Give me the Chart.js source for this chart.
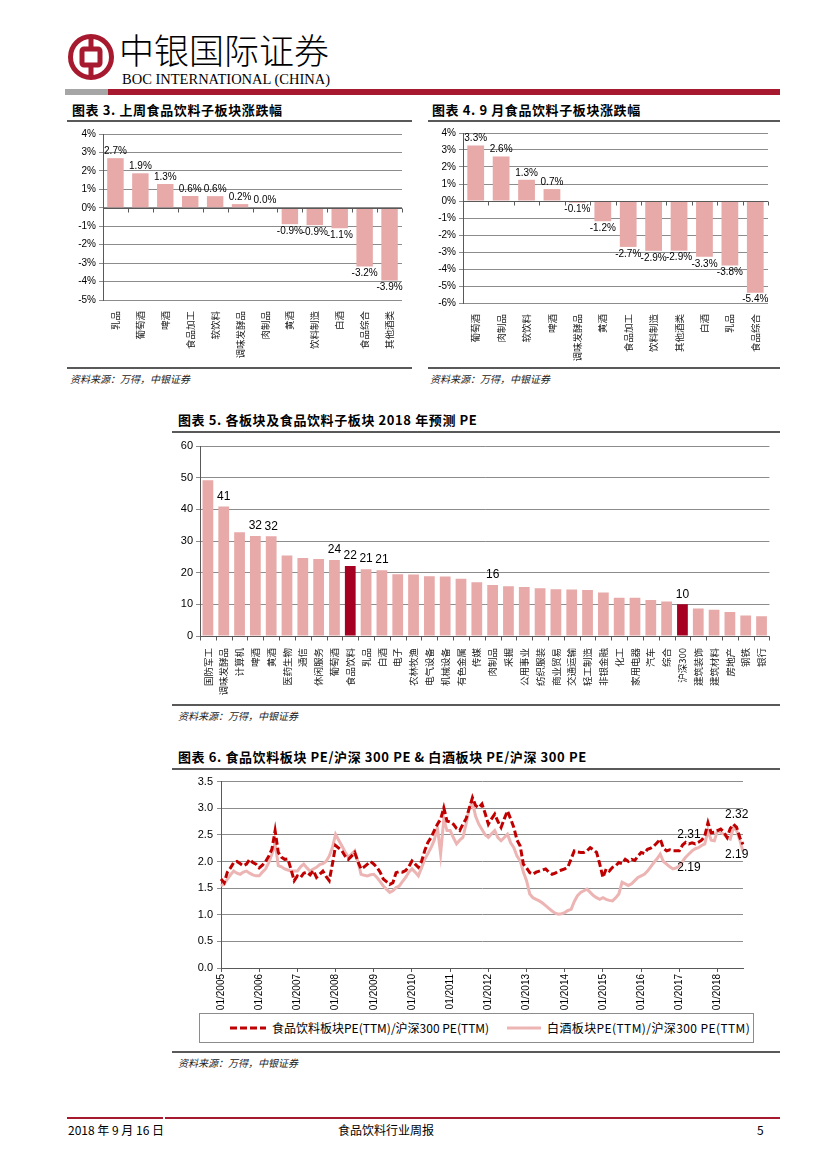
<!DOCTYPE html>
<html>
<head>
<meta charset="utf-8">
<script src="https://cdn.jsdelivr.net/npm/chart.js@4.4.0/dist/chart.umd.min.js"></script>
<style>
body{margin:0;background:#fff;}
#page{position:relative;width:827px;height:1169px;overflow:hidden;font-family:"Noto Sans CJK SC",sans-serif;color:#000;}
.abs{position:absolute;}
.title{position:absolute;font-weight:bold;font-size:13px;line-height:16px;letter-spacing:0.6px;white-space:nowrap;}
.rule{position:absolute;height:2px;background:#595959;}
.src{position:absolute;font-size:10px;line-height:12px;font-style:italic;color:#222;white-space:nowrap;}
.foot{position:absolute;top:1123px;font-size:12px;line-height:14px;white-space:nowrap;}
#legend{position:absolute;left:199px;top:1013px;width:553px;height:28px;border:1px solid #8c8c8c;}
.lg{position:absolute;top:6px;font-size:12px;line-height:16px;white-space:nowrap;}
</style>
</head>
<body>
<div id="page">
  <!-- 页眉 -->
  <svg class="abs" style="left:66px;top:32px" width="50" height="50" viewBox="-25 -25 50 50">
    <circle r="20.5" fill="none" stroke="#A6192E" stroke-width="5"/>
    <rect x="-9" y="-8" width="18" height="16" rx="2" fill="none" stroke="#A6192E" stroke-width="5"/>
    <line x1="0" y1="-21" x2="0" y2="-8" stroke="#A6192E" stroke-width="5"/>
    <line x1="0" y1="8" x2="0" y2="21" stroke="#A6192E" stroke-width="5"/>
  </svg>
  <div class="abs" style="left:119px;top:28px;font-size:35px;line-height:42px;font-weight:300;white-space:nowrap;">中银国际证券</div>
  <div class="abs" style="left:122px;top:71px;font-family:'Liberation Serif',serif;font-size:14.5px;line-height:16px;white-space:nowrap;">BOC INTERNATIONAL (CHINA)</div>
  <div class="abs" style="left:65px;top:89px;width:43px;height:6px;background:#a6a6a6;"></div>
  <div class="abs" style="left:108px;top:89px;width:672px;height:6px;background:#A6192E;"></div>

  <!-- 图表3 -->
  <div class="title" style="left:72px;top:102px;">图表 3. 上周食品饮料子板块涨跌幅</div>
  <div class="rule" style="left:67px;top:120px;width:345px;"></div>
  <canvas id="c3" class="abs" style="left:67px;top:124px" width="340" height="240"></canvas>
  <div class="rule" style="left:67px;top:367px;width:345px;"></div>
  <div class="src" style="left:70px;top:373px;">资料来源：万得，中银证券</div>

  <!-- 图表4 -->
  <div class="title" style="left:432px;top:102px;">图表 4. 9 月食品饮料子板块涨跌幅</div>
  <div class="rule" style="left:428px;top:120px;width:352px;"></div>
  <canvas id="c4" class="abs" style="left:425px;top:123px" width="348" height="241"></canvas>
  <div class="rule" style="left:428px;top:367px;width:352px;"></div>
  <div class="src" style="left:430px;top:373px;">资料来源：万得，中银证券</div>

  <!-- 图表5 -->
  <div class="title" style="left:178px;top:412px;">图表 5. 各板块及食品饮料子板块 2018 年预测 PE</div>
  <div class="rule" style="left:172px;top:431px;width:608px;"></div>
  <canvas id="c5" class="abs" style="left:170px;top:436px" width="607" height="264"></canvas>
  <div class="rule" style="left:172px;top:704px;width:608px;"></div>
  <div class="src" style="left:178px;top:710px;">资料来源：万得，中银证券</div>

  <!-- 图表6 -->
  <div class="title" style="left:178px;top:749px;">图表 6. 食品饮料板块 PE/沪深 300 PE &amp; 白酒板块 PE/沪深 300 PE</div>
  <div class="rule" style="left:172px;top:768px;width:608px;"></div>
  <canvas id="c6" class="abs" style="left:185px;top:771px" width="572" height="240"></canvas>
  <div id="legend">
    <svg class="abs" style="left:30px;top:12px" width="36" height="4"><line x1="0" y1="2" x2="36" y2="2" stroke="#C00000" stroke-width="3" stroke-dasharray="7,3"/></svg>
    <div class="lg" style="left:72px;">食品饮料板块PE(TTM)/沪深300 PE(TTM)</div>
    <svg class="abs" style="left:307px;top:12px" width="34" height="4"><line x1="0" y1="2" x2="34" y2="2" stroke="#EDB4B4" stroke-width="3"/></svg>
    <div class="lg" style="left:347px;letter-spacing:0.4px;">白酒板块PE(TTM)/沪深300 PE(TTM)</div>
  </div>
  <div class="rule" style="left:172px;top:1051px;width:608px;"></div>
  <div class="src" style="left:178px;top:1057px;">资料来源：万得，中银证券</div>

  <!-- 页脚 -->
  <div class="abs" style="left:67px;top:1117px;width:96px;height:2px;background:#A6192E;"></div>
  <div class="abs" style="left:165px;top:1117px;width:615px;height:2px;background:#A6192E;"></div>
  <div class="foot" style="left:68px;">2018 年 9 月 16 日</div>
  <div class="foot" style="left:338px;">食品饮料行业周报</div>
  <div class="foot" style="left:757px;">5</div>
</div>

<script>
// 图表3：上周食品饮料子板块涨跌幅（%）
const weekCats = ['乳品', '葡萄酒', '啤酒', '食品加工', '软饮料', '调味发酵品', '肉制品', '黄酒', '饮料制造', '白酒', '食品综合', '其他酒类'];
const weekChg = [2.69, 1.87, 1.29, 0.64, 0.63, 0.2, 0.02, -0.89, -0.94, -1.11, -3.18, -3.94];

// 图表4：9月食品饮料子板块涨跌幅（%）
const monthCats = ['葡萄酒', '肉制品', '软饮料', '啤酒', '调味发酵品', '黄酒', '食品加工', '饮料制造', '其他酒类', '白酒', '乳品', '食品综合'];
const monthChg = [3.26, 2.62, 1.25, 0.7, -0.1, -1.19, -2.7, -2.93, -2.92, -3.28, -3.79, -5.39];

// 图表5：2018年预测PE
const peCats = ['国防军工', '调味发酵品', '计算机', '啤酒', '黄酒', '医药生物', '通信', '休闲服务', '葡萄酒', '食品饮料',
  '乳品', '白酒', '电子', '农林牧渔', '电气设备', '机械设备', '有色金属', '传媒', '肉制品', '采掘',
  '公用事业', '纺织服装', '商业贸易', '交通运输', '轻工制造', '非银金融', '化工', '家用电器', '汽车', '综合',
  '沪深300', '建筑装饰', '建筑材料', '房地产', '钢铁', '银行'];
const peVals = [49.2, 40.9, 32.8, 31.6, 31.5, 25.4, 24.6, 24.3, 24.0, 22.1,
  21.1, 20.8, 19.5, 19.4, 18.9, 18.8, 18.1, 17.0, 16.1, 15.7,
  15.5, 15.1, 14.8, 14.7, 14.5, 13.7, 12.1, 12.1, 11.4, 10.9,
  10.0, 8.7, 8.3, 7.6, 6.5, 6.2];
const peMarked = ['食品饮料', '沪深300'];
const peLabelIdx = [1, 3, 4, 8, 9, 10, 11, 18, 30];

// 图表6：月度相对估值 2005/01 - 2018/09
const foodRel = [
  1.67, 1.60, 1.80, 1.88, 1.98, 2.00, 1.96, 1.92, 1.95, 2.04, 1.98, 1.95,
  1.88, 1.93, 2.00, 2.10, 2.23, 2.58, 2.17, 2.08, 2.04, 2.05, 1.85, 1.64,
  1.73, 1.70, 1.78, 1.80, 1.75, 1.83, 1.70, 1.76, 1.82, 1.72, 1.64, 1.95,
  2.30, 2.25, 2.20, 2.10, 2.04, 2.10, 2.17, 2.00, 1.86, 1.90, 1.95, 2.00,
  1.95, 1.89, 1.80, 1.67, 1.62, 1.57, 1.60, 1.79, 1.81, 1.80, 1.83, 1.90,
  2.01, 1.95, 1.89, 2.00, 2.20, 2.36, 2.45, 2.58, 2.70, 2.79, 3.01, 2.76,
  2.74, 2.70, 2.62, 2.58, 2.70, 2.80, 3.00, 3.20, 3.05, 3.01, 3.08, 2.90,
  2.70, 2.80, 2.89, 2.75, 2.64, 2.80, 2.95, 2.80, 2.64, 2.40, 2.29, 1.95,
  1.88, 1.79, 1.76, 1.80, 1.82, 1.84, 1.86, 1.80, 1.76, 1.78, 1.82, 1.84,
  1.86, 1.90, 2.05, 2.20, 2.18, 2.17, 2.17, 2.20, 2.26, 2.22, 2.17, 1.95,
  1.70, 1.86, 1.82, 1.89, 1.92, 1.98, 1.96, 2.04, 2.00, 2.04, 2.02, 2.10,
  2.17, 2.15, 2.23, 2.25, 2.29, 2.35, 2.42, 2.25, 2.20, 2.22, 2.20, 2.20,
  2.20, 2.31, 2.36, 2.33, 2.35, 2.33, 2.36, 2.40, 2.48, 2.73, 2.54, 2.55,
  2.58, 2.61, 2.55, 2.45, 2.62, 2.70, 2.64, 2.45, 2.32
];
const liquorRel = [
  1.54, 1.58, 1.67, 1.75, 1.82, 1.78, 1.76, 1.80, 1.82, 1.78, 1.75, 1.73,
  1.73, 1.80, 1.86, 1.98, 2.14, 2.35, 1.92, 1.90, 1.86, 1.84, 1.82, 1.82,
  1.82, 1.90, 1.95, 1.88, 1.82, 1.86, 1.89, 1.94, 1.96, 2.00, 2.10, 2.26,
  2.51, 2.40, 2.29, 2.18, 2.08, 2.14, 2.20, 2.00, 1.76, 1.74, 1.73, 1.75,
  1.76, 1.70, 1.62, 1.54, 1.48, 1.42, 1.45, 1.51, 1.54, 1.62, 1.70, 1.80,
  1.86, 1.80, 1.73, 1.88, 2.04, 2.15, 2.26, 2.40, 2.64, 2.14, 2.80, 2.58,
  2.58, 2.45, 2.33, 2.40, 2.45, 2.70, 3.01, 3.10, 2.85, 2.70, 2.60, 2.50,
  2.45, 2.52, 2.58, 2.45, 2.39, 2.45, 2.51, 2.35, 2.26, 2.10, 2.01, 1.80,
  1.64, 1.39, 1.32, 1.29, 1.26, 1.22, 1.17, 1.12, 1.07, 1.03, 1.01, 1.02,
  1.04, 1.08, 1.10, 1.25, 1.36, 1.42, 1.45, 1.48, 1.42, 1.36, 1.32, 1.29,
  1.32, 1.29, 1.27, 1.26, 1.32, 1.39, 1.61, 1.58, 1.55, 1.58, 1.64, 1.70,
  1.73, 1.76, 1.82, 1.90, 1.98, 2.05, 2.14, 2.00, 1.95, 1.90, 1.86, 1.88,
  1.92, 2.00, 2.08, 2.14, 2.20, 2.24, 2.26, 2.30, 2.33, 2.58, 2.40, 2.39,
  2.58, 2.55, 2.51, 2.45, 2.42, 2.64, 2.58, 2.40, 2.19
];
const relMonths = [];
for (let y = 2005; y <= 2018; y++) {
  for (let m = 1; m <= 12; m++) relMonths.push(String(m).padStart(2, '0') + '/' + y);
}
relMonths.length = foodRel.length;

const PINK = '#E8A9A9';
const DARK = '#A50021';
const GRID = '#8c8c8c';
const CJK = '"Noto Sans CJK SC", sans-serif';

Chart.defaults.font.family = '"Liberation Sans", Arial, sans-serif';
Chart.defaults.color = '#000';
Chart.defaults.animation = false;

// 柱顶数值
const barLabels = {
  id: 'barLabels',
  afterDatasetsDraw(chart, args, opts) {
    if (!opts.fmt) return;
    const ctx = chart.ctx;
    const vals = chart.data.datasets[0].data;
    ctx.save();
    ctx.font = opts.font;
    ctx.fillStyle = '#000';
    ctx.textAlign = 'center';
    chart.getDatasetMeta(0).data.forEach((bar, i) => {
      if (opts.only && !opts.only.includes(i)) return;
      const v = vals[i];
      if (v >= 0) {
        ctx.textBaseline = 'bottom';
        ctx.fillText(opts.fmt(v), bar.x, bar.y - opts.gap);
      } else {
        ctx.textBaseline = 'top';
        ctx.fillText(opts.fmt(v), bar.x, bar.y + opts.gap);
      }
    });
    ctx.restore();
  }
};

// 零轴及刻度
const zeroAxis = {
  id: 'zeroAxis',
  afterDatasetsDraw(chart, args, opts) {
    if (!opts.on) return;
    const ctx = chart.ctx, area = chart.chartArea;
    const xs = chart.scales.x, ys = chart.scales.y;
    const y0 = Math.round(ys.getPixelForValue(0)) + 0.5;
    ctx.save();
    ctx.strokeStyle = '#595959';
    ctx.lineWidth = 1;
    ctx.beginPath();
    ctx.moveTo(area.left, y0);
    ctx.lineTo(area.right, y0);
    for (let i = 0; i <= chart.data.labels.length; i++) {
      const x = Math.round(xs.getPixelForValue(i - 0.5)) + 0.5;
      ctx.moveTo(x, y0);
      ctx.lineTo(x, y0 + 4);
    }
    ctx.stroke();
    ctx.restore();
  }
};

// 折线标注
const lineNotes = {
  id: 'lineNotes',
  afterDatasetsDraw(chart, args, opts) {
    if (!opts.items) return;
    const ctx = chart.ctx;
    ctx.save();
    ctx.font = '12px "Liberation Sans", Arial, sans-serif';
    ctx.fillStyle = '#000';
    ctx.textAlign = 'center';
    ctx.textBaseline = 'middle';
    opts.items.forEach(n => {
      const x = chart.scales.x.getPixelForValue(n.i);
      const y = chart.scales.y.getPixelForValue(chart.data.datasets[n.ds].data[n.i]);
      ctx.fillText(n.text, x, y + n.dy);
    });
    ctx.restore();
  }
};

Chart.register(barLabels, zeroAxis, lineNotes);

function fixWidth(w) { return s => { s.width = w; }; }
function fixHeight(h) { return s => { s.height = h; }; }

function createChgChart(id, labels, data, min, max, yw, xh) {
  return new Chart(document.getElementById(id), {
    type: 'bar',
    data: {
      labels: labels,
      datasets: [{ data: data, backgroundColor: PINK, categoryPercentage: 1, barPercentage: 0.66 }]
    },
    options: {
      responsive: false,
      layout: { padding: { top: 10, right: 5, left: 0, bottom: 0 } },
      plugins: {
        legend: { display: false },
        tooltip: { enabled: false },
        barLabels: { fmt: v => v.toFixed(1) + '%', font: '10px "Liberation Sans", Arial, sans-serif', gap: 2 },
        zeroAxis: { on: true }
      },
      scales: {
        x: {
          grid: { display: false },
          border: { display: false },
          ticks: { autoSkip: false, minRotation: 90, maxRotation: 90, padding: 3, font: { family: CJK, size: 9.5 }, color: '#222' },
          afterFit: fixHeight(xh)
        },
        y: {
          min: min, max: max,
          ticks: { stepSize: 1, callback: v => v + '%', font: { size: 10 }, padding: 3 },
          grid: { color: GRID, tickLength: 4 },
          border: { display: true, color: '#595959' },
          afterFit: fixWidth(yw)
        }
      }
    }
  });
}

createChgChart('c3', weekCats, weekChg, -5, 4, 36, 64);
createChgChart('c4', monthCats, monthChg, -6, 4, 38, 61);

new Chart(document.getElementById('c5'), {
  type: 'bar',
  data: {
    labels: peCats,
    datasets: [{
      data: peVals,
      backgroundColor: peCats.map(c => peMarked.includes(c) ? DARK : PINK),
      categoryPercentage: 1,
      barPercentage: 0.68
    }]
  },
  options: {
    responsive: false,
    layout: { padding: { top: 10, right: 5, left: 0, bottom: 0 } },
    plugins: {
      legend: { display: false },
      tooltip: { enabled: false },
      barLabels: { fmt: v => String(Math.round(v)), only: peLabelIdx, font: '12px "Liberation Sans", Arial, sans-serif', gap: 4 },
      zeroAxis: { on: true }
    },
    scales: {
      x: {
        grid: { display: false },
        border: { display: false },
        ticks: { autoSkip: false, minRotation: 90, maxRotation: 90, padding: 4, font: { family: CJK, size: 9.5 }, color: '#222' },
        afterFit: fixHeight(64)
      },
      y: {
        min: 0, max: 60,
        ticks: { stepSize: 10, font: { size: 11 }, padding: 3 },
        grid: { color: GRID, tickLength: 4 },
        border: { display: true, color: '#595959' },
        afterFit: fixWidth(30)
      }
    }
  }
});

new Chart(document.getElementById('c6'), {
  type: 'line',
  data: {
    labels: relMonths,
    datasets: [
      { label: '食品饮料板块PE(TTM)/沪深300 PE(TTM)', data: foodRel, borderColor: '#C00000', borderWidth: 3, borderDash: [7, 3], pointRadius: 0, tension: 0 },
      { label: '白酒板块PE(TTM)/沪深300 PE(TTM)', data: liquorRel, borderColor: '#EDB4B4', borderWidth: 3, pointRadius: 0, tension: 0 }
    ]
  },
  options: {
    responsive: false,
    layout: { padding: { top: 10, right: 4, left: 0, bottom: 0 } },
    plugins: {
      legend: { display: false },
      tooltip: { enabled: false },
      lineNotes: {
        items: [
          { text: '2.31', ds: 0, i: 147, dy: -9 },
          { text: '2.19', ds: 1, i: 147, dy: 14 },
          { text: '2.32', ds: 0, i: 162, dy: -13 },
          { text: '2.19', ds: 1, i: 162, dy: 24 }
        ]
      }
    },
    scales: {
      x: {
        offset: false,
        grid: {
          drawOnChartArea: false, tickLength: 4,
          color: c => (c.index % 12 === 0 ? '#595959' : 'rgba(0,0,0,0)')
        },
        border: { display: true, color: '#595959' },
        ticks: {
          autoSkip: false, minRotation: 90, maxRotation: 90, padding: 2, font: { size: 10 },
          callback: (v, i) => (relMonths[i].startsWith('01/') ? relMonths[i] : '')
        },
        afterFit: fixHeight(43)
      },
      y: {
        min: 0, max: 3.5,
        ticks: { stepSize: 0.5, callback: v => v.toFixed(1), font: { size: 11 }, padding: 4 },
        grid: { color: GRID, tickLength: 4 },
        border: { display: true, color: '#595959' },
        afterFit: fixWidth(36)
      }
    }
  }
});
</script>
</body>
</html>
